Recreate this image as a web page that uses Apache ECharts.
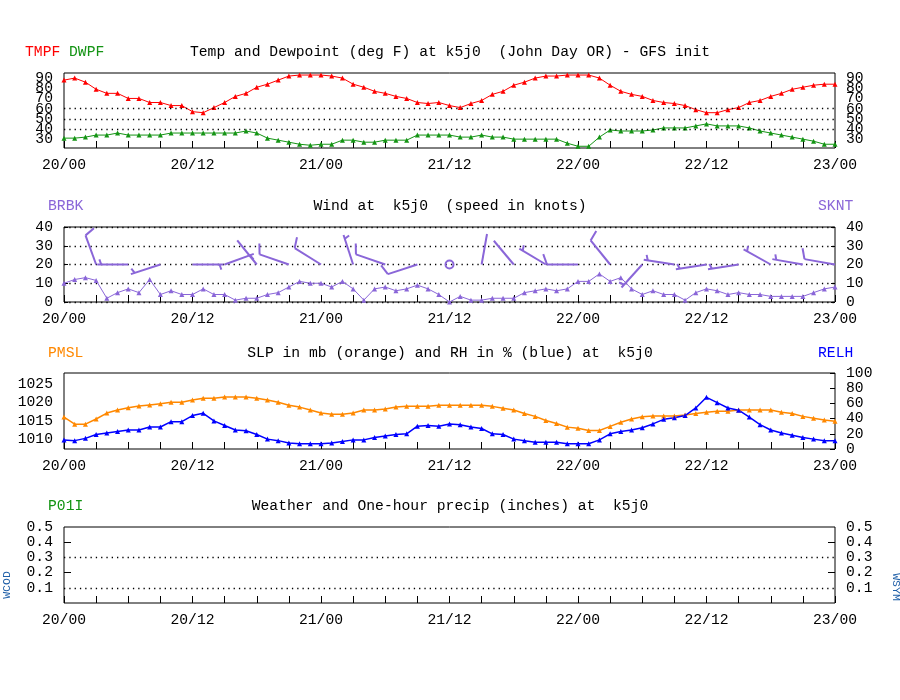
<!DOCTYPE html>
<html><head><meta charset="utf-8">
<script src="https://cdn.jsdelivr.net/npm/echarts@6/dist/echarts.min.js"></script>
<style>html,body{margin:0;padding:0;background:#fff}#c{width:900px;height:700px}</style>
</head><body><div id="c"></div>
<script>
// ---- data (hourly from 20/00 to 23/00) ----
const timeLabels = ['20/00','20/12','21/00','21/12','22/00','22/12','23/00'];
const tmpf = [88,90,86,79,75,75,70,70,66,66, 63,63,57,56,61,66,72,75,81,84, 88,92,93,93,93,92,90,84,81,77,
              75,72,70,66,65,66,63,61,65,68, 74,77,83,86,90,92,92,93,93,93, 90,83,77,74,72,68,66,65,63,59,
              56,56,59,61,66,68,72,75,79,81, 83,84,84];
const dwpf = [31,31,32,34,34,36,34,34,34,34, 36,36,36,36,36,36,36,38,36,31, 29,27,25,24,25,25,29,29,27,27,
              29,29,29,34,34,34,34,32,32,34, 32,32,30,30,30,30,30,26,23,23, 32,39,38,38,38,39,41,41,41,43,
              45,43,43,43,41,38,36,34,32,30, 28,25,25];
const sknt = [10,12,13,11.5,2,5,7,5,12,4, 6,4,4,7,4,4,1,2,2,4, 5,8,11,10,10,8,11,7,1,7,
              8,6,7,9,7,4,0,3,1,1, 2,2,2,5,6,7,6,7,11,11, 15,11,13,7,4,6,4,4,1,5,
              7,6,4,5,4,4,3,3,3,3, 5,7,8];
// wind direction (deg, every 3 hours)
const drct = [270,340,270,252,90,70,321,289,302,342,289,252,0,10,320,301,270,321,222,279,261,261,299,280,280];
const pmsl = [1016.0,1014.1,1014.1,1015.5,1017.1,1017.9,1018.5,1019.0,1019.3,1019.6,
              1020.0,1020.0,1020.6,1021.1,1021.1,1021.4,1021.4,1021.4,1021.1,1020.6,
              1020.0,1019.2,1018.7,1017.9,1017.1,1016.8,1016.8,1017.1,1017.9,1017.9,
              1018.2,1018.7,1018.9,1018.9,1018.9,1019.2,1019.2,1019.2,1019.2,1019.2,
              1018.9,1018.4,1017.9,1017.0,1016.2,1015.1,1014.3,1013.3,1013.0,1012.4,
              1012.4,1013.5,1014.6,1015.5,1016.1,1016.3,1016.3,1016.3,1016.6,1017.0,
              1017.3,1017.6,1017.6,1017.9,1017.9,1017.9,1017.9,1017.3,1017.0,1016.2,
              1015.7,1015.2,1014.9];
const relh = [12,11,14,19,21,23,25,25,29,29, 36,36,44,47,37,31,25,24,19,13, 11,8,7,7,7,8,10,12,12,15,
              17,19,20,30,31,30,33,32,29,27, 20,19,13,11,9,9,9,7,7,7, 12,20,23,25,28,33,39,41,44,54,
              68,61,54,51,42,32,25,21,18,15, 13,11,11];
const p01i = [];
const tempTicksA = [30,50,70,90];
const tempTicksB = [40,60,80];
const tempGrid = [40,50,60];
const slpTicks = [1010,1015,1020,1025];
const precipGrid = [0.1,0.3];
const precipTicks = [0.2,0.4];

// ---- style ----
const FONT = '"Liberation Mono","DejaVu Sans Mono",monospace';
const FS = 14.7;
const RED='#ff0000', GREEN='#149414', PURPLE='#8a66d8', ORANGE='#ff8800', BLUE='#0000ff', STEEL='#1f5fa8';
const DOT = [1.3,4];

const pairs = arr => arr.map((v,i)=>[i,v]);
const barbData = drct.map((d,i)=>[i*3, d, sknt[i*3]]);

function xAx(gi){
  return {type:'value', gridIndex:gi, min:0, max:72, interval:3,
    axisLine:{show:false}, splitLine:{show:false},
    axisTick:{inside:true, length:7, lineStyle:{color:'#000', width:1}},
    axisLabel:{margin:10, color:'#000', fontFamily:FONT, fontSize:FS, showMinLabel:true, showMaxLabel:true,
      formatter: v => (v%12===0 ? timeLabels[v/12] : '')}};
}
const lab = extra => Object.assign({color:'#000', fontFamily:FONT, fontSize:FS, margin:11, hideOverlap:false,
  showMinLabel:true, showMaxLabel:true, formatter: v => String(v)}, extra||{});
const gridBase = {left:64, right:65, show:true, borderColor:'#000', borderWidth:1, backgroundColor:'rgba(0,0,0,0)'};
const txt = (x,y,text,fill,align) => ({type:'text', silent:true,
  style:{x:x, y:y, text:text, fill:fill||'#000', fontFamily:FONT, fontSize:FS, textVerticalAlign:'middle', textAlign:align||'left'}});
const tempAx = (pos, ticks) => ({type:'value', gridIndex:0, position:pos, min:21.3, max:95, axisLine:{show:false},
  axisTick:{show:false}, splitLine:{show:false}, axisLabel:lab({customValues:ticks})});

const chart = echarts.init(document.getElementById('c'));
chart.setOption({
  animation:false,
  backgroundColor:'#fff',
  grid:[
    Object.assign({top:73, height:75}, gridBase),
    Object.assign({top:227, height:75}, gridBase),
    Object.assign({top:373, height:76}, gridBase),
    Object.assign({top:527, height:76}, gridBase)
  ],
  xAxis:[xAx(0), xAx(1), xAx(2), xAx(3)],
  yAxis:[
    tempAx('left', tempTicksA),
    tempAx('right', tempTicksA),
    {type:'value', gridIndex:1, position:'left', min:0, max:40, interval:10, axisLine:{show:false}, axisTick:{inside:true, length:4, lineStyle:{color:'#000'}}, splitLine:{show:true, lineStyle:{color:'#000', type:DOT, width:1.3}}, axisLabel:lab()},
    {type:'value', gridIndex:1, position:'right', min:0, max:40, interval:10, axisLine:{show:false}, axisTick:{inside:true, length:4, lineStyle:{color:'#000'}}, splitLine:{show:false}, axisLabel:lab()},
    {type:'value', gridIndex:2, position:'left', min:1007.4, max:1027.9, axisLine:{show:false}, axisTick:{show:false}, splitLine:{show:false}, axisLabel:lab({customValues:slpTicks})},
    {type:'value', gridIndex:2, position:'right', min:0, max:100, interval:20, axisLine:{show:false}, axisTick:{inside:true, length:5, lineStyle:{color:'#000'}}, splitLine:{show:false}, axisLabel:lab()},
    {type:'value', gridIndex:3, position:'left', min:0, max:0.5, interval:0.1, axisLine:{show:false}, axisTick:{inside:true, length:7, customValues:precipTicks, lineStyle:{color:'#000'}}, splitLine:{show:false}, axisLabel:lab({formatter:v=>(v===0?'':v.toFixed(1))})},
    {type:'value', gridIndex:3, position:'right', min:0, max:0.5, interval:0.1, axisLine:{show:false}, axisTick:{inside:true, length:7, customValues:precipTicks, lineStyle:{color:'#000'}}, splitLine:{show:false}, axisLabel:lab({formatter:v=>(v===0?'':v.toFixed(1))})},
    tempAx('left', tempTicksB),
    tempAx('right', tempTicksB)
  ],
  series:[
    {type:'line', xAxisIndex:0, yAxisIndex:0, data:pairs(tmpf), symbol:'triangle', symbolSize:5,
     lineStyle:{color:RED, width:1}, itemStyle:{color:RED}, z:3,
     markLine:{silent:true, symbol:'none', label:{show:false}, lineStyle:{color:'#000', type:DOT, width:1.3}, data:tempGrid.map(v=>({yAxis:v}))}},
    {type:'line', xAxisIndex:0, yAxisIndex:0, data:pairs(dwpf), symbol:'triangle', symbolSize:5,
     lineStyle:{color:GREEN, width:1}, itemStyle:{color:GREEN}, z:3},
    {type:'line', xAxisIndex:1, yAxisIndex:2, data:pairs(sknt), symbol:'triangle', symbolSize:5,
     lineStyle:{color:PURPLE, width:1}, itemStyle:{color:PURPLE}, z:3},
    {type:'custom', xAxisIndex:1, yAxisIndex:2, data:barbData, clip:true, z:4,
     renderItem:function(params, api){
       const h=api.value(0), dir=api.value(1), spd=api.value(2);
       const p=api.coord([h,20]);
       const st={stroke:PURPLE, lineWidth:2};
       if (spd<0.5) return {type:'circle', shape:{cx:p[0], cy:p[1], r:4}, style:{stroke:PURPLE, lineWidth:2, fill:'none'}};
       const a=dir*Math.PI/180, ux=Math.sin(a), uy=-Math.cos(a), L=31;
       const ch=[{type:'line', shape:{x1:p[0], y1:p[1], x2:p[0]+ux*L, y2:p[1]+uy*L}, style:st}];
       const r=Math.round(spd/5)*5, full=Math.floor(r/10), half=(r%10)>=5;
       const fa=(dir+70)*Math.PI/180, fx=Math.sin(fa), fy=-Math.cos(fa);
       let pos=L;
       for (let i=0;i<full;i++){
         const bx=p[0]+ux*pos, by=p[1]+uy*pos;
         ch.push({type:'line', shape:{x1:bx, y1:by, x2:bx+fx*11, y2:by+fy*11}, style:st});
         pos-=4;
       }
       if (half){
         if (full===0) pos=L-4;
         const bx=p[0]+ux*pos, by=p[1]+uy*pos;
         ch.push({type:'line', shape:{x1:bx, y1:by, x2:bx+fx*5.5, y2:by+fy*5.5}, style:st});
       }
       return {type:'group', children:ch};
     }},
    {type:'line', xAxisIndex:2, yAxisIndex:4, data:pairs(pmsl), symbol:'triangle', symbolSize:5,
     lineStyle:{color:ORANGE, width:1.5}, itemStyle:{color:ORANGE}, z:3},
    {type:'line', xAxisIndex:2, yAxisIndex:5, data:pairs(relh), symbol:'triangle', symbolSize:5,
     lineStyle:{color:BLUE, width:1.5}, itemStyle:{color:BLUE}, z:3},
    {type:'line', xAxisIndex:3, yAxisIndex:6, data:pairs(p01i), symbol:'none', lineStyle:{color:GREEN},
     markLine:{silent:true, symbol:'none', label:{show:false}, lineStyle:{color:'#000', type:DOT, width:1.3}, data:precipGrid.map(v=>({yAxis:v}))}}
  ],
  graphic:[
    txt(25,52,'TMPF',RED), txt(69,52,'DWPF',GREEN),
    txt(450,52,'Temp and Dewpoint (deg F) at k5j0  (John Day OR) - GFS init','#000','center'),
    txt(48,206,'BRBK',PURPLE),
    txt(450,206,'Wind at  k5j0  (speed in knots)','#000','center'),
    txt(818,206,'SKNT',PURPLE),
    txt(48,353,'PMSL',ORANGE),
    txt(450,353,'SLP in mb (orange) and RH in % (blue) at  k5j0','#000','center'),
    txt(818,353,'RELH',BLUE),
    txt(48,506,'P01I',GREEN),
    txt(450,506,'Weather and One-hour precip (inches) at  k5j0','#000','center'),
    {type:'text', silent:true, x:7, y:585, rotation:Math.PI/2, style:{x:0,y:0,text:'WCOD',fill:STEEL,fontFamily:FONT,fontSize:11.5,textVerticalAlign:'middle',textAlign:'center'}},
    {type:'text', silent:true, x:896, y:587, rotation:-Math.PI/2, style:{x:0,y:0,text:'WSYM',fill:STEEL,fontFamily:FONT,fontSize:11.5,textVerticalAlign:'middle',textAlign:'center'}}
  ]
});
</script></body></html>
